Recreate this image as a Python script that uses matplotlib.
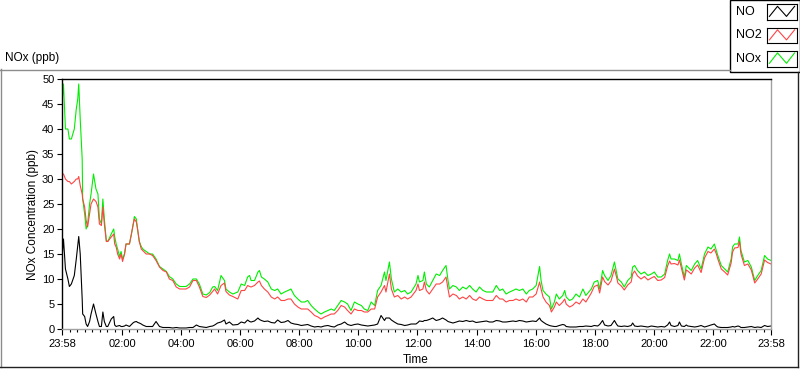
import matplotlib
matplotlib.use("Agg")
import matplotlib.pyplot as plt
import numpy as np
from matplotlib.lines import Line2D
from matplotlib.patches import Rectangle

# minutes after 23:58 (start of record)
t_min = [0, 3, 7, 12, 15, 19, 25, 29, 32, 34, 37, 41, 42, 46, 49, 52, 56, 59, 64, 69,
         73, 76, 80, 83, 86, 90, 93, 100, 105, 107, 110, 113, 117, 120, 123, 127, 130, 137, 141, 144,
         147, 151, 154, 157, 161, 164, 171, 178, 184, 191, 198, 205, 212, 218, 225, 232, 239, 245, 252, 259,
         266, 273, 279,
         286, 293, 300, 306, 310, 316, 323, 330, 333, 340, 347,
         357, 364, 371, 377, 381, 384, 391, 398, 401, 405, 411, 418, 425, 432, 438, 445, 452, 459, 465, 472,
         479, 486, 493, 499, 506, 513, 520, 526, 533, 540, 547, 553, 560, 567, 574, 580, 587, 594, 601, 608,
         614, 621, 628, 635, 641, 648, 655, 658, 665, 669, 675, 682, 689, 696, 702, 709,
         719, 723, 726, 733, 736, 740, 746, 753, 760, 767, 773, 780, 784, 787, 794, 801, 807, 814, 821, 828,
         834, 841, 848, 855, 862, 868, 875, 882, 889, 895, 902, 909, 916, 922, 929, 936, 943, 949, 956, 963,
         970, 973, 977, 983, 990, 994, 1000, 1004, 1010, 1017, 1021, 1024, 1031, 1037, 1044, 1051, 1058, 1064,
         1075, 1081, 1088, 1092, 1098, 1102, 1109, 1115, 1122, 1126, 1129, 1136, 1142, 1149, 1156, 1159, 1163, 1169, 1176, 1183,
         1190, 1197, 1203, 1210, 1217, 1224, 1230, 1234, 1237, 1244, 1251, 1254, 1258, 1264, 1268, 1271, 1278, 1285, 1291, 1298,
         1305, 1312, 1318, 1325, 1329, 1332, 1339, 1346, 1352, 1359, 1362, 1366, 1373, 1376, 1379, 1386, 1393, 1400, 1407, 1413,
         1420, 1427, 1433, 1440]

nox = [45, 49, 40, 40, 38, 38, 40, 44, 46, 49, 42, 34, 26, 23, 20, 21, 25, 27, 31, 28,
       27, 22, 21, 26, 22, 17.7, 17.5, 19, 20, 18.5, 17, 16, 14.5, 15.5, 14, 15, 17, 17, 19, 20.5,
       22.5, 22, 19.5, 17.5, 16.5, 16, 15.5, 15, 15, 14, 12.5, 12, 11.5, 10.5, 10, 9, 8.5, 8.5, 8.5, 9,
       10, 10, 9,
       7, 6.8, 7.3, 8.4, 8.5, 7.7, 10.7, 9.7, 8, 7.4, 7,
       7.4, 9, 8.7, 10.4, 10.7, 9.7, 9.7, 11.4, 11.7, 10.4, 10, 9.4, 8, 7.7, 8, 7, 7.4, 7.7, 8, 6.7,
       6, 5.4, 5.4, 5.7, 4.7, 4, 3.4, 3, 3.4, 3.7, 4, 3.7, 4.7, 5.7, 5.4, 5, 3.7, 5.4, 5, 4.7,
       4, 3.7, 5.4, 4.7, 7.7, 8.7, 11.4, 9.7, 13.4, 10, 7.4, 8, 7.4, 7.7, 7, 7.4,
       9, 10.7, 9.4, 9.7, 11.4, 9, 8.4, 9.7, 11, 10.7, 11.7, 12.7, 9.7, 8, 8.7, 8.4, 7.7, 8.4, 8, 8.7,
       8, 7.4, 8.4, 7.7, 7.4, 7.4, 7.4, 8.7, 7.7, 8, 7, 7.4, 7.7, 8, 7.7, 8, 7, 7.7, 8, 8.7,
       12.5, 9.7, 7.7, 7, 6.4, 4, 5.4, 7, 6, 6.7, 7.7, 6.4, 5.7, 6, 7, 6.4, 8, 6.7,
       8, 9.4, 9.7, 8, 11.7, 10.7, 9.7, 10.7, 13.4, 11.4, 10, 9.4, 8.4, 9.7, 10.4, 12.4, 12.7, 11.7, 11, 11.4,
       10.7, 11, 11.4, 10.4, 10.4, 11, 13.7, 15, 14, 14, 13.7, 15, 13, 10.4, 12.7, 12.4, 11.7, 13, 13.7, 12,
       15, 16.4, 16, 17, 15.7, 14.7, 12.7, 12, 11.4, 14, 16.4, 17, 17, 18.4, 15.7, 13.4, 13.7, 12.4, 9.7, 10.7,
       11.7, 14.7, 14, 13.7]

no2 = [31, 31, 30, 29.5, 29.5, 29, 29.5, 30, 30, 30.5, 28.7, 27, 26, 24.4, 21.7, 20.4, 23, 25, 26, 25.5,
       24.4, 21, 20.7, 24.4, 21, 17.5, 17.5, 18.4, 19, 17, 16.4, 15, 14, 15, 13.5, 15, 17, 17, 19, 20.7,
       22, 21.4, 19.7, 17.5, 16, 15.7, 15, 15, 14.7, 13.7, 12.4, 11.7, 11.4, 10, 9.7, 8.4, 8, 8, 8, 8.4,
       9.7, 9.7, 8.4,
       6.5, 6.3, 6.8, 7.5, 8, 7, 8.7, 9.2, 7.5, 6.8, 6.5,
       6, 7.7, 7.7, 8.7, 8.5, 8.4, 8.7, 9.4, 9.6, 8.7, 8, 7.4, 6.4, 6, 6.4, 5.7, 5.7, 6, 6, 5,
       4.4, 4, 4, 4, 3.4, 2.7, 2.4, 2, 2.4, 2.7, 3, 3, 3.7, 4.7, 4.4, 3.7, 3, 4, 3.7, 3.7,
       3.4, 3.4, 4, 4, 6.4, 7.4, 8.7, 7.4, 11, 8, 6.4, 6.7, 6, 6.4, 6, 6.4,
       7.7, 9, 7.7, 8, 9.4, 7.7, 7, 8, 9, 9, 9.4, 10.4, 8, 6.4, 7, 6.7, 6, 6.4, 6, 6.7,
       6, 5.7, 6.4, 6, 5.7, 5.7, 5.7, 6.7, 6, 6, 5.4, 5.7, 5.7, 6, 5.7, 6, 5.4, 6.4, 6.4, 7,
       9.4, 8, 6.4, 5.4, 4.7, 3.4, 4.4, 5.4, 4.7, 5.4, 6, 5, 4.4, 4.7, 5.4, 5, 6, 5.4,
       7.2, 8.5, 8.8, 7.2, 10.4, 9.5, 8.8, 9.6, 12, 10.5, 9.2, 8.6, 7.8, 8.8, 9.4, 11, 11.6, 10.6, 10, 10.5,
       9.8, 10.2, 10.5, 9.7, 9.8, 10.3, 12.6, 13.6, 13, 13.1, 12.8, 13.8, 12.2, 9.8, 11.8, 11.6, 11, 12.2, 12.8, 11.3,
       14.2, 15.5, 15.2, 16, 15, 14, 12, 11.4, 10.8, 13.2, 15.4, 16.2, 16.3, 17.5, 15, 12.7, 13, 11.8, 9.2, 10,
       11, 13.8, 13.3, 13]

no = [14, 18, 12, 10, 8.5, 9, 10.7, 14, 16.7, 18.5, 15, 6, 3, 2.5, 1, 0.5, 1.5, 3, 5, 3,
      1.5, 0.5, 0.5, 3.4, 1.5, 0.5, 0.5, 2, 2.5, 0.8, 0.5, 0.6, 0.7, 0.5, 0.5, 0.6, 0.8, 0.5, 0.9, 1.2,
      1.4, 1.5, 1.3, 1.2, 1, 0.8, 0.5, 0.5, 0.5, 1.5, 0.5, 0.3, 0.3, 0.3, 0.2, 0.3, 0.2, 0.2, 0.2, 0.3,
      0.3, 0.8, 0.5,
      0.4, 0.3, 0.5, 0.6, 0.8, 1.2, 1.4, 1.8, 1, 1.4, 0.8,
      0.9, 1.4, 1.2, 1.8, 1.5, 1.4, 1.6, 2.2, 1.9, 1.7, 1.5, 1.6, 1.3, 1.2, 1.8, 1.3, 1.4, 1.7, 1.2, 1,
      0.9, 0.7, 0.8, 0.9, 0.6, 0.4, 0.5, 0.4, 0.6, 0.7, 0.5, 0.4, 0.8, 1, 1.4, 0.9, 0.7, 0.9, 1, 0.8,
      0.7, 0.6, 0.7, 0.8, 1, 2.7, 1.7, 2.2, 2.2, 1.8, 1.4, 1, 0.9, 0.7, 0.8, 1,
      1, 1.3, 1.6, 1.5, 1.7, 1.7, 1.9, 2.2, 1.7, 1.9, 2.2, 1.8, 1.5, 1.4, 1.2, 1.4, 1.6, 1.5, 1.7, 1.5,
      1.6, 1.3, 1.4, 1.5, 1.6, 1.4, 1.4, 1.7, 1.6, 1.4, 1.4, 1.5, 1.6, 1.5, 1.7, 1.6, 1.4, 1.5, 1.6, 1.5,
      2.2, 1.7, 1.4, 1, 0.7, 0.6, 0.5, 0.5, 0.7, 0.9, 0.8, 0.5, 0.4, 0.4, 0.4, 0.5, 0.5, 0.6,
      0.5, 0.7, 0.6, 0.9, 1.7, 0.8, 0.6, 0.7, 1.7, 1, 0.6, 0.5, 0.6, 0.5, 0.7, 1.2, 0.6, 0.5, 0.6, 0.5,
      0.4, 0.6, 0.5, 0.4, 0.5, 0.4, 0.8, 1.4, 0.7, 0.5, 0.7, 1.4, 0.6, 0.5, 0.8, 0.6, 0.5, 0.4, 0.5, 0.7,
      0.4, 0.6, 0.8, 1, 0.6, 0.4, 0.3, 0.3, 0.3, 0.4, 0.5, 0.4, 0.6, 0.5, 0.3, 0.3, 0.4, 0.5, 0.3, 0.4,
      0.3, 0.7, 0.5, 0.6]

tick_min = [0, 122, 242, 362, 482, 602, 722, 842, 962, 1082, 1202, 1322, 1440]
tick_lab = ["23:58", "02:00", "04:00", "06:00", "08:00", "10:00", "12:00",
            "14:00", "16:00", "18:00", "20:00", "22:00", "23:58"]
series_names = ["NO", "NO2", "NOx"]
series_colors = ["#000000", "#ff4444", "#00ee00"]

plt.rcParams['font.family'] = ['Liberation Sans', 'DejaVu Sans']

W, H = 800, 369
def fx(px):
    return px / W
def fy(py):
    return 1 - py / H

fig = plt.figure(figsize=(8, 3.69), dpi=100)

# outer panel frame (sunken look)
gray = "#8c8c8c"
fig.add_artist(Line2D([fx(0.5), fx(0.5)], [fy(69), fy(367)], color=gray, lw=1))
fig.add_artist(Line2D([fx(0), fx(730)], [fy(69.5), fy(69.5)], color=gray, lw=1))
fig.add_artist(Line2D([fx(0), fx(797.5)], [fy(367), fy(367)], color="#222222", lw=1))
fig.add_artist(Line2D([fx(797.5), fx(797.5)], [fy(72), fy(367)], color="#222222", lw=1))

fig.text(fx(5), fy(58), "NOx (ppb)", fontsize=8.5, va="center", ha="left")

ax = fig.add_axes([fx(62), fy(329), 709 / W, 250 / H])
ax.plot(t_min, nox, color=series_colors[2], lw=0.8)
ax.plot(t_min, no2, color=series_colors[1], lw=0.8)
ax.plot(t_min, no, color=series_colors[0], lw=0.8)
ax.set_xlim(0, 1440)
ax.set_ylim(0, 50)

ax.set_yticks(np.arange(0, 51, 5))
ax.set_xticks(tick_min)
ax.set_xticklabels(tick_lab)
minors = []
for a, b in zip(tick_min[:-1], tick_min[1:]):
    minors.extend(np.linspace(a, b, 9)[1:-1])
ax.set_xticks(minors, minor=True)
ax.tick_params(axis="both", which="major", direction="out", length=3.5, width=0.8,
               labelsize=8, pad=2)
ax.tick_params(axis="x", which="minor", direction="out", length=2.2, width=0.8)
ax.tick_params(axis="x", which="major", length=4, pad=3.5)

for s in ["left", "top"]:
    ax.spines[s].set_color("black")
    ax.spines[s].set_linewidth(1)
for s in ["right", "bottom"]:
    ax.spines[s].set_color("#a0a0a0")
    ax.spines[s].set_linewidth(1)

fig.text(fx(33), fy(214), "NOx Concentration (ppb)", rotation=90, fontsize=8.5,
         ha="center", va="center")
fig.text(fx(416), fy(360), "Time", fontsize=8.5, ha="center", va="center")

# legend panel
fig.add_artist(Rectangle((fx(730), fy(71.5)), 70 / W, 72 / H, transform=fig.transFigure,
                         facecolor="white", edgecolor="black", lw=1, zorder=-1))
rows = [(4, 19.5), (27.5, 43), (50.5, 66.5)]
for name, col, (y0, y1) in zip(series_names, series_colors, rows):
    fig.text(fx(736), fy((y0 + y1) / 2), name, fontsize=9, ha="left", va="center")
    iax = fig.add_axes([fx(767), fy(y1), 30 / W, (y1 - y0) / H])
    iax.set_zorder(3)
    iax.plot([0.08, 0.35, 0.65, 0.92], [0.2, 0.85, 0.2, 0.85], color=col, lw=0.8)
    iax.set_xlim(0, 1)
    iax.set_ylim(0, 1)
    iax.set_xticks([])
    iax.set_yticks([])
    for s in iax.spines.values():
        s.set_color("black")
        s.set_linewidth(0.8)

fig.savefig("out.png", dpi=100)
